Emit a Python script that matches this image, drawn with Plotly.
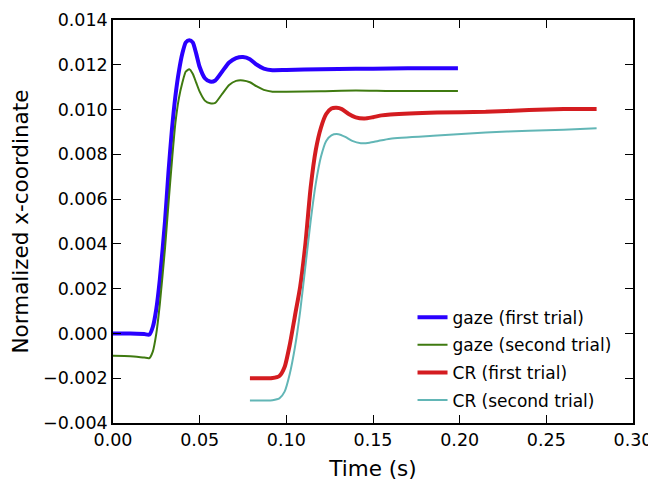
import plotly.graph_objects as go

# ---- data ----
gaze1_t = [0.000, 0.010, 0.018, 0.021, 0.023, 0.025, 0.027, 0.030, 0.032, 0.034, 0.036, 0.038,
           0.040, 0.042, 0.044, 0.046, 0.048, 0.050, 0.053, 0.056, 0.059, 0.063, 0.067, 0.071,
           0.075, 0.079, 0.083, 0.087, 0.092, 0.100, 0.120, 0.140, 0.160, 0.180, 0.199]
gaze1_x = [0.0000, 0.0000, -0.00003, -0.00005, 0.0003, 0.0011, 0.0024, 0.0050, 0.0072, 0.0091,
           0.0106, 0.0117, 0.0125, 0.0130, 0.0131, 0.0130, 0.0125, 0.0119, 0.0114, 0.01125,
           0.0113, 0.0117, 0.0121, 0.0123, 0.01235, 0.01225, 0.0120, 0.01183, 0.01176, 0.01177,
           0.0118, 0.01182, 0.01183, 0.01185, 0.01185]

gaze2_t = gaze1_t
gaze2_x = [-0.0010, -0.00102, -0.00108, -0.0011, -0.0008, 0.0000, 0.0013, 0.0038, 0.0058, 0.0077,
           0.0094, 0.0105, 0.0112, 0.0117, 0.0118, 0.0116, 0.0112, 0.0108, 0.0104, 0.01028,
           0.0103, 0.0107, 0.0111, 0.01128, 0.0113, 0.01122, 0.01103, 0.01088, 0.0108, 0.0108,
           0.01082, 0.01085, 0.01083, 0.01083, 0.01083]

cr1_t = [0.079, 0.092, 0.096, 0.099, 0.102, 0.105, 0.108, 0.111, 0.114, 0.117, 0.120, 0.123,
         0.126, 0.129, 0.132, 0.136, 0.140, 0.145, 0.150, 0.155, 0.160, 0.187, 0.215, 0.240,
         0.260, 0.279]
cr1_x = [-0.0020, -0.00199, -0.0019, -0.0015, -0.0005, 0.0008, 0.0021, 0.0040, 0.0065, 0.0082,
         0.0092, 0.0098, 0.01005, 0.01008, 0.01002, 0.0098, 0.00965, 0.0096, 0.00966, 0.00974,
         0.00978, 0.00987, 0.0099, 0.00998, 0.01002, 0.01003]

cr2_t = [0.079, 0.092, 0.096, 0.099, 0.102, 0.105, 0.108, 0.111, 0.114, 0.117, 0.120, 0.123,
         0.126, 0.130, 0.134, 0.138, 0.143, 0.148, 0.153, 0.160, 0.187, 0.215, 0.240, 0.260,
         0.279]
cr2_x = [-0.0030, -0.00298, -0.0029, -0.0026, -0.0018, -0.0006, 0.0010, 0.0030, 0.0050, 0.0067,
         0.0079, 0.0086, 0.00885, 0.0089, 0.00878, 0.0086, 0.0085, 0.00852, 0.0086, 0.0087,
         0.00884, 0.00898, 0.00905, 0.0091, 0.00917]

names = ["gaze (first trial)", "gaze (second trial)", "CR (first trial)", "CR (second trial)"]
colors = ["#2a00ff", "#3f7a10", "#d41c20", "#62b6b6"]
widths = [4, 2, 4, 2]
series = [(gaze1_t, gaze1_x), (gaze2_t, gaze2_x), (cr1_t, cr1_x), (cr2_t, cr2_x)]

x_ticks = [0.00, 0.05, 0.10, 0.15, 0.20, 0.25, 0.30]
y_ticks = [-0.004, -0.002, 0.000, 0.002, 0.004, 0.006, 0.008, 0.010, 0.012, 0.014]

FONT = "DejaVu Sans"

fig = go.Figure()
for i, ((t, v), n, c, w) in enumerate(zip(series, names, colors, widths)):
    fig.add_trace(go.Scatter(
        x=t, y=v, mode="lines", name=n, legendgroup=f"g{i}",
        line=dict(color=c, width=w, shape="spline", smoothing=0.6),
    ))

axis_common = dict(
    showgrid=False, zeroline=False, showline=True, linecolor="black", linewidth=1.5,
    mirror="ticks", ticks="inside", ticklen=8, tickwidth=1, tickcolor="black",
    tickfont=dict(family=FONT, size=17.5, color="black"), automargin=False,
)

# the page body adds an 8px offset, so the figure is sized to fit the window
fig.update_layout(
    width=648, height=473,
    margin=dict(l=105, r=23, t=12, b=58),
    paper_bgcolor="white", plot_bgcolor="white",
    font=dict(family=FONT, color="black"),
    showlegend=True,
    legend=dict(
        x=0.576, y=0.306, xanchor="left", yanchor="top",
        bgcolor="rgba(0,0,0,0)", borderwidth=0,
        font=dict(family=FONT, size=17, color="black"),
        traceorder="grouped", tracegroupgap=2.5,
    ),
    xaxis=dict(
        range=[0, 0.30], tickvals=x_ticks, tickformat=".2f",
        title=dict(text="Time (s)", font=dict(family=FONT, size=21.5), standoff=13),
        **axis_common,
    ),
    yaxis=dict(
        range=[-0.004, 0.014], tickvals=y_ticks, tickformat=".3f",
        title=dict(text="Normalized x-coordinate", font=dict(family=FONT, size=21.5), standoff=11),
        **axis_common,
    ),
)

fig.write_html("out.html")
